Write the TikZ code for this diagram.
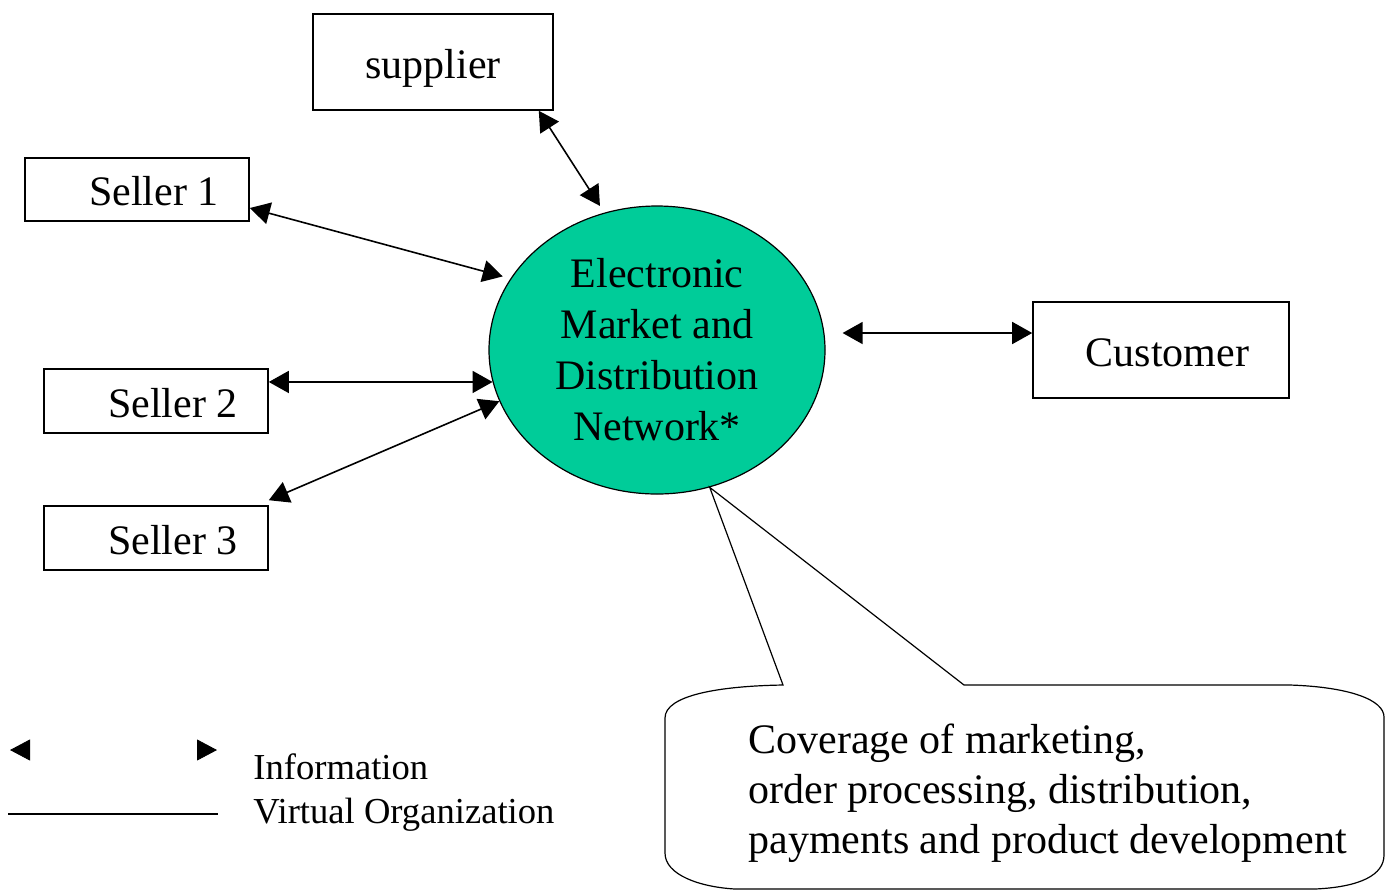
\documentclass[tikz,border=0pt]{standalone}
\usepackage{fontspec}
\setmainfont{Liberation Serif}
\usepackage{tikz}
\usetikzlibrary{shapes.geometric,arrows.meta}
\definecolor{marketgreen}{RGB}{0,204,153}

\begin{document}
\begin{tikzpicture}[x=0.5pt,y=-0.5pt,
    box/.style={draw,line width=0.8pt,inner sep=0pt,text height=16pt,text depth=0pt,font=\fontsize{21}{25.5}\selectfont},
    hub/.style={ellipse,draw,line width=0.6pt,fill=marketgreen,minimum width=168pt,minimum height=144pt,inner sep=0pt,align=center,font=\fontsize{21}{25.5}\selectfont},
    info/.style={line width=0.8pt,{Triangle[length=10pt,width=11pt]}-{Triangle[length=10pt,width=11pt]}},
    legend/.style={inner sep=0pt,anchor=base west,font=\fontsize{18.3}{22}\selectfont}]
    \useasboundingbox (0,0) rectangle (1391,890);

    % Draw the market in the middle
    \node[hub] (emd) at (657,350) {Electronic\\Market and\\Distribution\\Network*};

    % Draw the partners round it
    \node[box,minimum width=120pt,minimum height=48pt] (supplier) at (433,62) {supplier};
    \node[box,minimum width=112pt,minimum height=31.5pt] (seller1) at (137,189.5) {\hspace*{17pt}Seller 1};
    \node[box,minimum width=112pt,minimum height=32pt] (seller2) at (156,401) {\hspace*{17pt}Seller 2};
    \node[box,minimum width=112pt,minimum height=32pt] (seller3) at (156,538) {\hspace*{17pt}Seller 3};
    \node[box,minimum width=128pt,minimum height=48pt] (customer) at (1161,350) {\hspace*{6.5pt}Customer};

    % Draw information flows
    \draw[info,shorten >=4pt] ([xshift=-7.5pt]supplier.south east) -- (emd.111.6);
    \draw[info,shorten >=4pt] ([yshift=-9.25pt]seller1.east) -- (emd.154);
    \draw[info] (emd.191 -| seller2.east) -- (emd.191);
    \draw[info] ([yshift=2.5pt]seller3.north east) -- (emd.198);
    \coordinate (custtip) at ([xshift=8.5pt]emd.east);
    \coordinate (custin) at ([yshift=8.5pt]customer.west);
    \draw[info] (custtip |- custin) -- (custin);

    % Draw the callout
    \draw[line width=0.6pt] (emd.291) -- (964,685) -- (1290,685)
        .. controls (1350,687) and (1384,700) .. (1384,717) -- (1384,855)
        .. controls (1384,875) and (1360,887) .. (1315,889) -- (735,889)
        .. controls (700,887) and (665,875) .. (665,853) -- (665,718)
        .. controls (665,695) and (720,686) .. (783,685) -- cycle;
    \node[inner sep=0pt,anchor=west,align=left,font=\fontsize{21}{25}\selectfont] (coverage) at (748,793)
        {Coverage of marketing,\\order processing, distribution,\\payments and product development};

    % Draw the legend
    \coordinate (infoL) at (10,750);
    \coordinate (infoR) at (217,750);
    \draw[white,{Triangle[length=10pt,width=10.5pt,color=black,fill=black]}-{Triangle[length=10pt,width=10.5pt,color=black,fill=black]}] (infoL) -- (infoR);
    \coordinate (voL) at (8,814);
    \coordinate (voR) at (218,814);
    \draw[line width=0.8pt] (voL) -- (voR);
    \node[legend] (infolabel) at (253,779) {Information};
    \node[legend] (volabel) at (253,823) {Virtual Organization};
\end{tikzpicture}
\end{document}
